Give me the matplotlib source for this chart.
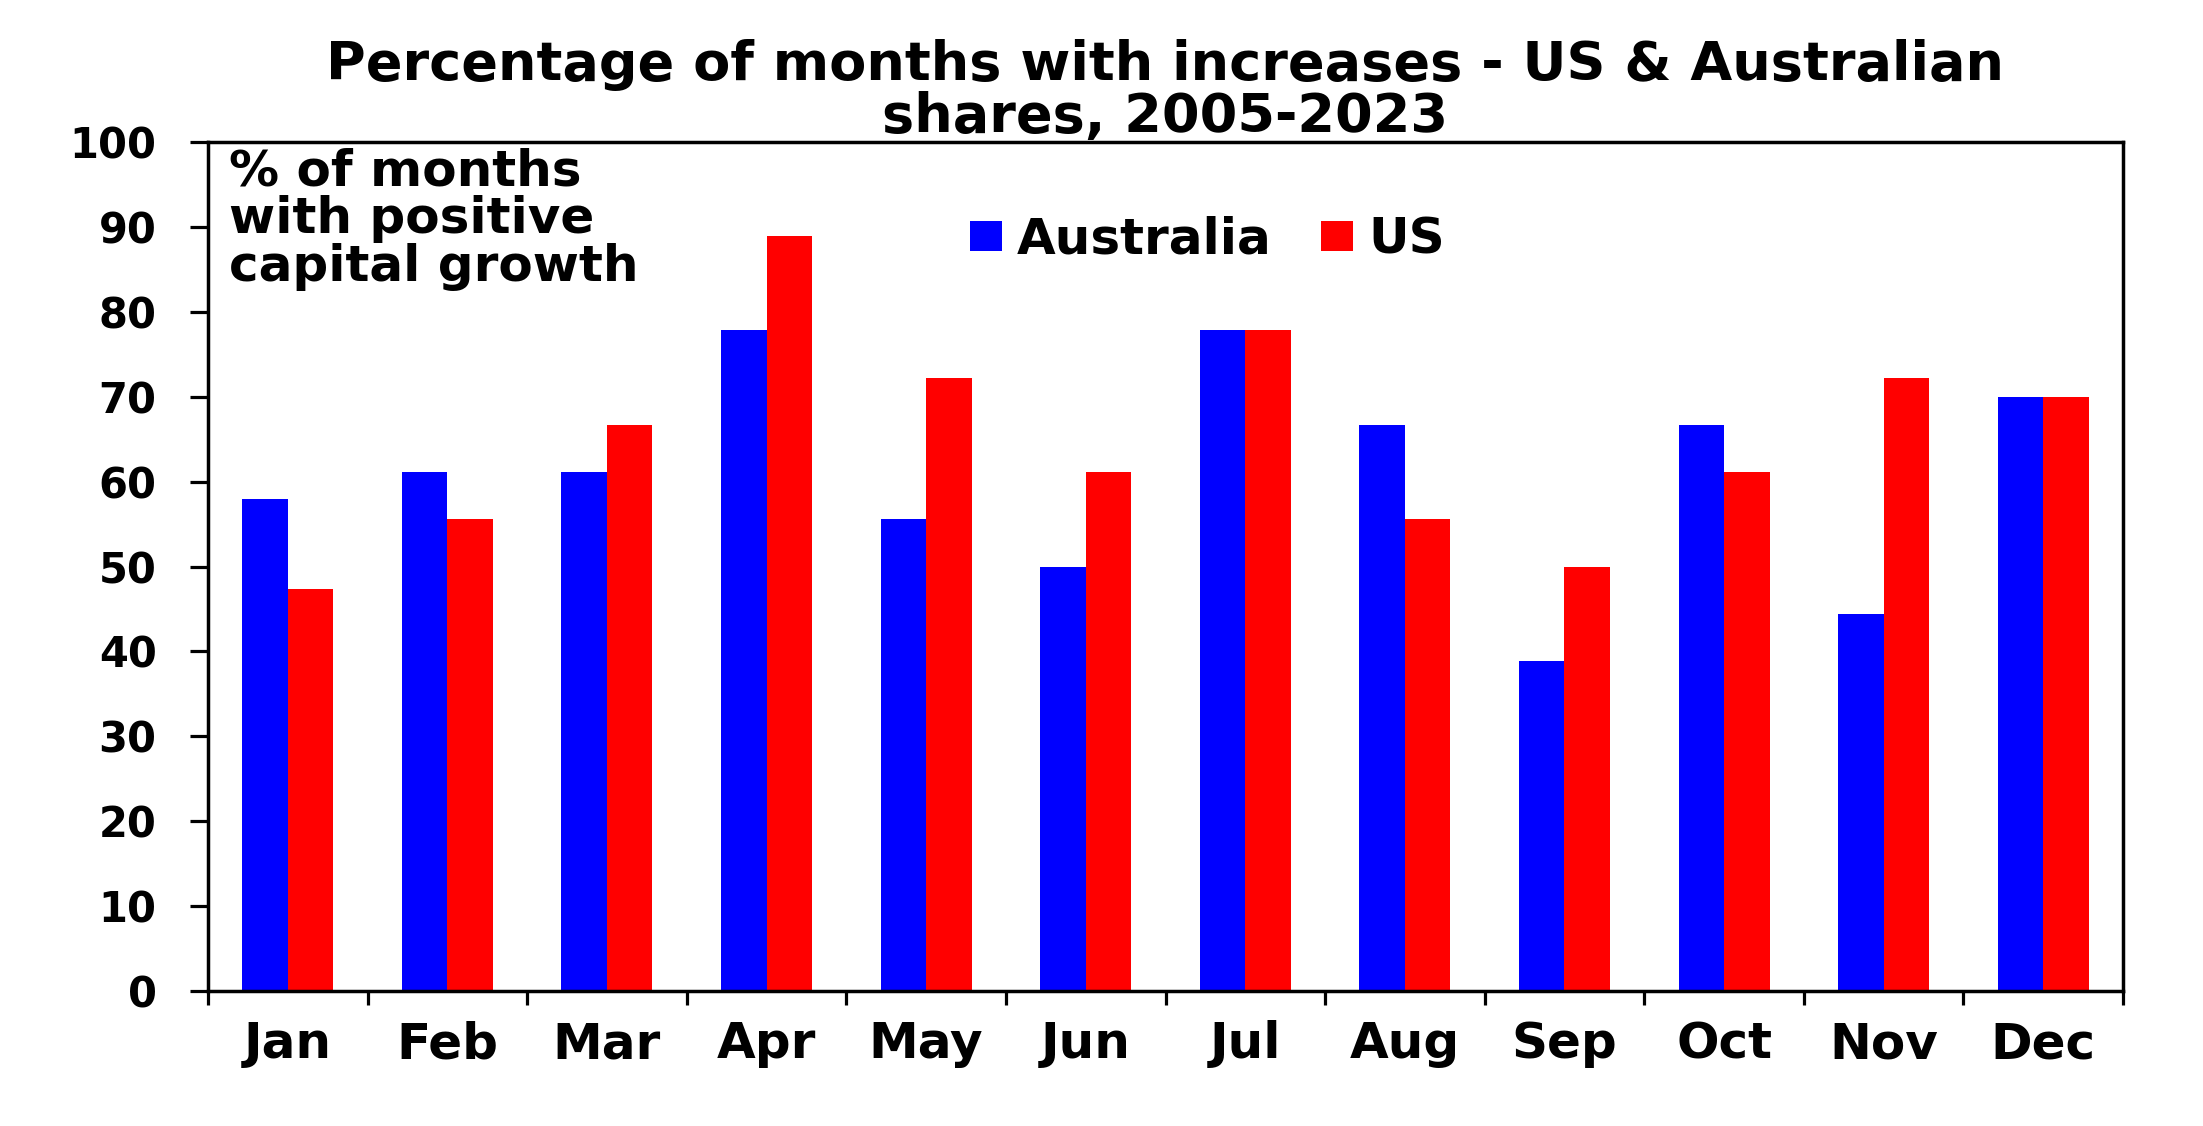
import matplotlib
matplotlib.use("Agg")
import matplotlib.pyplot as plt
import numpy as np

months = ['Jan', 'Feb', 'Mar', 'Apr', 'May', 'Jun', 'Jul', 'Aug', 'Sep', 'Oct', 'Nov', 'Dec']
australia = [57.9, 61.1, 61.1, 77.8, 55.6, 50.0, 77.8, 66.7, 38.9, 66.7, 44.4, 70.0]
us = [47.4, 55.6, 66.7, 88.9, 72.2, 61.1, 77.8, 55.6, 50.0, 61.1, 72.2, 70.0]
yticks = [0, 10, 20, 30, 40, 50, 60, 70, 80, 90, 100]

plt.rcParams['font.family'] = ['DejaVu Sans']
plt.rcParams['font.weight'] = 'bold'

fig = plt.figure(figsize=(22.03, 11.26), dpi=100)
ax = fig.add_axes([208 / 2203, 1 - 991 / 1126, (2123 - 208) / 2203, (991 - 142) / 1126])

x = np.arange(len(months))
w = 0.285
ax.bar(x - w / 2, australia, w, color='#0000ff', label='Australia')
ax.bar(x + w / 2, us, w, color='#ff0000', label='US')

ax.set_xlim(-0.5, 11.5)
ax.set_ylim(0, 100)
ax.set_yticks(yticks)
ax.set_yticklabels([str(v) for v in yticks], fontsize=30, fontweight='bold')
ax.set_xticks(x)
ax.set_xticklabels(months, fontsize=36, fontweight='bold')
ax.set_xticks(np.arange(-0.5, 12, 1), minor=True)
ax.tick_params(axis='x', which='major', length=0, pad=21)
ax.tick_params(axis='x', which='minor', length=10, width=2.3, direction='out')
ax.tick_params(axis='y', length=13, width=2.3, direction='out', pad=24)
for s in ax.spines.values():
    s.set_linewidth(2.5)

ax.text(0.011, 0.994, '% of months\nwith positive\ncapital growth', transform=ax.transAxes,
        fontsize=36, fontweight='bold', va='top', ha='left', linespacing=1.0)

ax.legend(loc='center left', bbox_to_anchor=(0.398, 0.885), ncol=2, frameon=False,
          handlelength=0.63, handleheight=0.53, handletextpad=0.3,
          columnspacing=1.0, borderpad=0, borderaxespad=0,
          prop={'weight': 'bold', 'size': 36})

ax.text(0.5, 1.06, 'Percentage of months with increases - US & Australian\nshares, 2005-2023',
        transform=ax.transAxes, ha='center', va='center', fontsize=39, fontweight='bold',
        linespacing=1.0)

fig.savefig('out.png', dpi=100)
